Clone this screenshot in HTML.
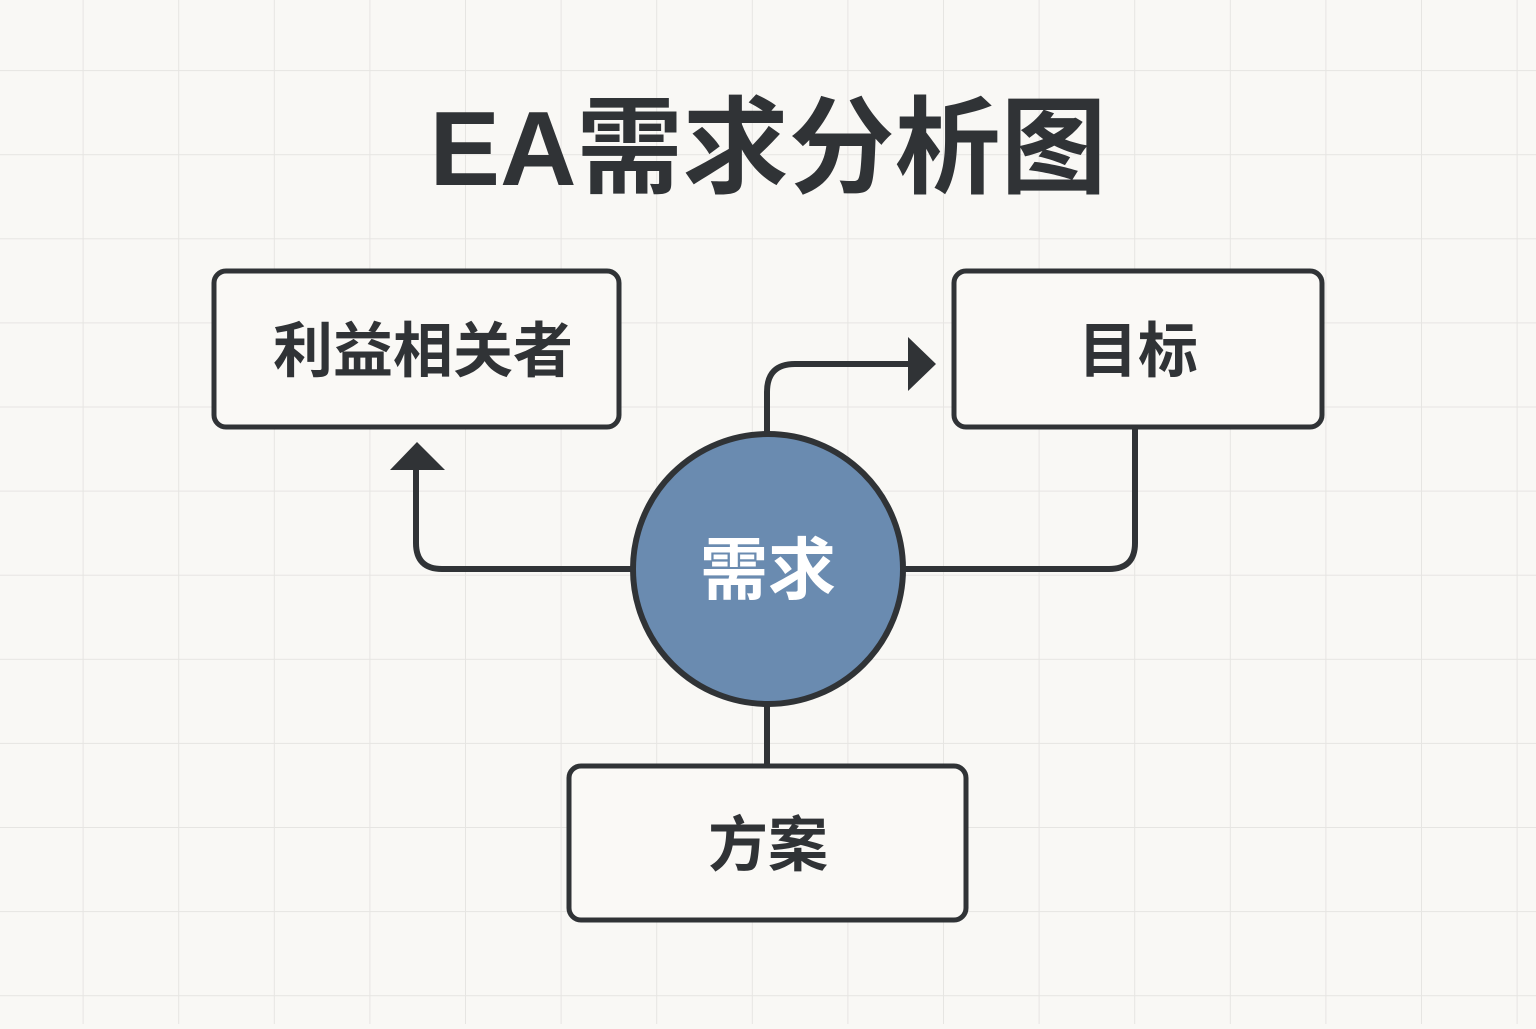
<!DOCTYPE html>
<html><head><meta charset="utf-8"><style>
html,body{margin:0;padding:0;}
body{width:1536px;height:1024px;overflow:hidden;background:#f9f8f5;}
</style></head><body>
<svg width="1536" height="1024" viewBox="0 0 1536 1024" xmlns="http://www.w3.org/2000/svg">
<defs>
<pattern id="g" x="-12" y="-13" width="95.6" height="84.1" patternUnits="userSpaceOnUse">
<path d="M95.6 0V84.1M0 84.1H95.6" stroke="#e6e5e2" stroke-width="2" fill="none"/>
</pattern>
</defs>
<rect width="1536" height="1024" fill="url(#g)"/>
<text x="768" y="185" text-anchor="middle" font-family="Liberation Sans, Noto Sans CJK SC, sans-serif" font-size="106" font-weight="bold" fill="#303336">EA需求分析图</text>
<g stroke="#303336" stroke-width="6" fill="none">
<path d="M767 432V392Q767 364 795 364H912"/>
<path d="M631 569H442Q416 569 416 543V468"/>
<path d="M905 569H1109Q1135 569 1135 543V428"/>
<path d="M767 705V765"/>
</g>
<g fill="#303336">
<path d="M908 337L936 364L908 391Z"/>
<path d="M390 470L417 442L445 470Z"/>
</g>
<g stroke="#303336" stroke-width="5" fill="#faf9f6">
<rect x="214" y="271" width="405" height="156" rx="12"/>
<rect x="954" y="271" width="368" height="156" rx="12"/>
<rect x="569" y="766" width="397" height="154" rx="12"/>
</g>
<circle cx="768" cy="569" r="135" fill="#6a8bb0" stroke="#303336" stroke-width="6"/>
<g font-family="Liberation Sans, Noto Sans CJK SC, sans-serif" font-weight="bold" text-anchor="middle">
<text x="423" y="372" font-size="60" fill="#303336">利益相关者</text>
<text x="1138" y="372" font-size="60" fill="#303336">目标</text>
<text x="768" y="866" font-size="60" fill="#303336">方案</text>
<text x="768" y="594" font-size="68" fill="#ffffff">需求</text>
</g>
</svg>
</body></html>
